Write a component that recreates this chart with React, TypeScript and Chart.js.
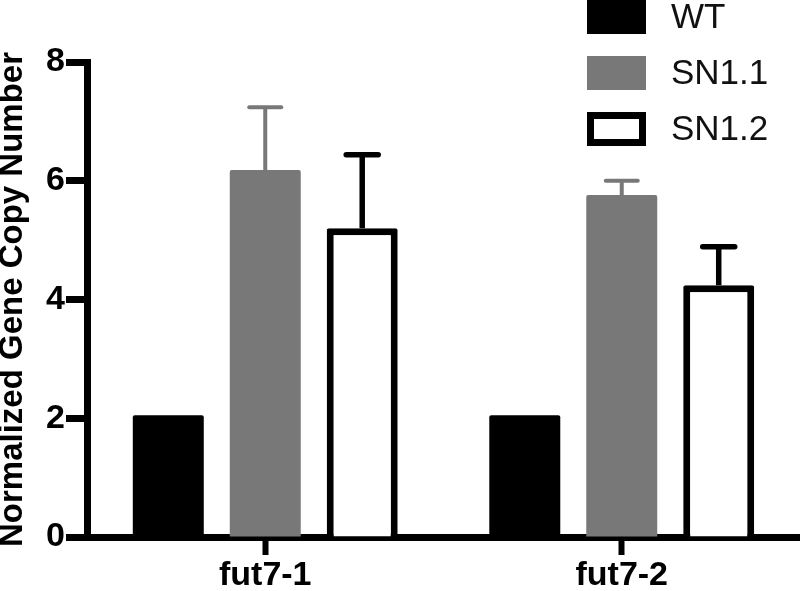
import React, { useEffect, useRef } from "react";
import { Chart, registerables } from "chart.js";

Chart.register(...registerables);

const categories = ["fut7-1", "fut7-2"];
const seriesNames = ["WT", "SN1.1", "SN1.2"];
const wtValues = [2.05, 2.05];
const wtErrors = [0, 0];
const sn11Values = [6.18, 5.76];
const sn11Errors = [1.06, 0.24];
const sn12Values = [5.2, 4.24];
const sn12Errors = [1.24, 0.65];
const yTicks = [0, 2, 4, 6, 8];

const FONT = "'Liberation Sans', Arial, Helvetica, sans-serif";
const GRAY = "#787878";

const errorBarPlugin = {
  id: "errorBars",
  afterDatasetsDraw(chart: any) {
    const ctx = chart.ctx;
    const yScale = chart.scales.y;
    ctx.save();
    chart.data.datasets.forEach((ds: any, di: number) => {
      const meta = chart.getDatasetMeta(di);
      const errs: number[] = ds.errors || [];
      meta.data.forEach((el: any, i: number) => {
        const e = errs[i];
        if (!e) return;
        const top = yScale.getPixelForValue(ds.data[i] + e);
        ctx.strokeStyle = ds.errorColor;
        ctx.lineWidth = ds.errorWidth;
        ctx.lineCap = "butt";
        ctx.beginPath();
        ctx.moveTo(el.x, el.y);
        ctx.lineTo(el.x, top);
        ctx.stroke();
        ctx.lineCap = "round";
        ctx.beginPath();
        ctx.moveTo(el.x - 16, top);
        ctx.lineTo(el.x + 16, top);
        ctx.stroke();
      });
    });
    ctx.restore();
  },
};

const legendPlugin = {
  id: "customLegend",
  afterDraw(chart: any) {
    const ctx = chart.ctx;
    ctx.save();
    const bx = 587, bw = 59, bh = 34, step = 56, top0 = 0;
    chart.data.datasets.forEach((ds: any, i: number) => {
      const y = top0 + i * step;
      const b = ds.borderWidth || 0;
      ctx.fillStyle = ds.backgroundColor;
      ctx.fillRect(bx, y, bw, bh);
      if (b > 0) {
        ctx.strokeStyle = ds.borderColor;
        ctx.lineWidth = b;
        ctx.strokeRect(bx + b / 2, y + b / 2, bw - b, bh - b);
      }
      ctx.fillStyle = "#111";
      ctx.font = `35px ${FONT}`;
      ctx.textAlign = "left";
      ctx.textBaseline = "middle";
      ctx.fillText(ds.label, 671, y + bh / 2 + 1);
    });
    ctx.restore();
  },
};

export default function App() {
  const ref = useRef<HTMLCanvasElement | null>(null);
  useEffect(() => {
    document.body.style.margin = "0";
    const canvas = ref.current!;
    const chart = new Chart(canvas, {
      type: "bar",
      data: {
        labels: categories,
        datasets: [
          {
            label: seriesNames[0],
            data: wtValues,
            errors: wtErrors,
            backgroundColor: "#000000",
            borderWidth: 0,
            borderRadius: 2,
            errorColor: "#000000",
            errorWidth: 5,
          } as any,
          {
            label: seriesNames[1],
            data: sn11Values,
            errors: sn11Errors,
            backgroundColor: GRAY,
            borderWidth: 0,
            borderRadius: 2,
            errorColor: GRAY,
            errorWidth: 4,
          } as any,
          {
            label: seriesNames[2],
            data: sn12Values,
            errors: sn12Errors,
            backgroundColor: "#ffffff",
            borderColor: "#000000",
            borderWidth: 7,
            borderRadius: 2,
            errorColor: "#000000",
            errorWidth: 5.5,
          } as any,
        ],
      },
      options: {
        responsive: false,
        animation: false,
        barPercentage: 0.732,
        categoryPercentage: 0.816,
        layout: { padding: { top: 62, right: 0, left: 0, bottom: 0 } },
        plugins: {
          legend: { display: false },
          tooltip: { enabled: false },
        },
        scales: {
          x: {
            z: 1,
            offset: true,
            grid: {
              display: true,
              offset: false,
              drawOnChartArea: false,
              drawTicks: true,
              tickLength: 18,
              tickWidth: 6,
              tickColor: "#000",
            },
            border: { display: true, color: "#000", width: 7 },
            ticks: {
              color: "#000",
              padding: 0,
              font: { family: FONT, size: 34, weight: "bold", lineHeight: 1.2 },
            },
            afterFit(scale: any) {
              scale.height = 54;
            },
          },
          y: {
            min: 0,
            max: 8,
            afterBuildTicks(scale: any) {
              scale.ticks = yTicks.map((v) => ({ value: v }));
            },
            grid: {
              display: true,
              drawOnChartArea: false,
              drawTicks: true,
              tickLength: 21,
              tickWidth: 7,
              tickColor: "#000",
            },
            border: { display: true, color: "#000", width: 7 },
            ticks: {
              color: "#000",
              padding: 1,
              font: { family: FONT, size: 34, weight: "bold" },
            },
            title: {
              display: true,
              text: "Normalized Gene Copy Number",
              color: "#000",
              padding: 0,
              font: { family: FONT, size: 33, weight: "bold", lineHeight: 0.8 },
            },
            afterFit(scale: any) {
              scale.width = 87;
            },
          },
        },
      } as any,
      plugins: [errorBarPlugin, legendPlugin],
    });
    return () => chart.destroy();
  }, []);
  return (
    <div style={{ width: 800, height: 591 }}>
      <canvas ref={ref} width={800} height={591} style={{ display: "block" }} />
    </div>
  );
}
